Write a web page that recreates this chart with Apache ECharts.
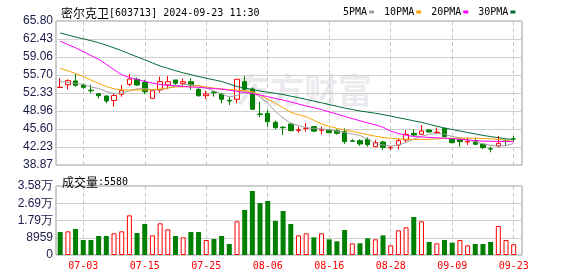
<!DOCTYPE html>
<html><head><meta charset="utf-8">
<script src="https://cdn.jsdelivr.net/npm/echarts@6/dist/echarts.min.js"></script>
<style>html,body{margin:0;padding:0;background:#fff}#c{width:578px;height:276px}</style>
</head><body><div id="c"></div>
<script>
const stockName = '密尔克卫';
const stockCode = '603713';
const timeLabel = '2024-09-23 11:30';
const dates = ['06-28','07-01','07-02','07-03','07-04','07-05','07-08','07-09','07-10','07-11','07-12','07-15','07-16','07-17','07-18','07-19','07-22','07-23','07-24','07-25','07-26','07-29','07-30','07-31','08-01','08-02','08-05','08-06','08-07','08-08','08-09','08-12','08-13','08-14','08-15','08-16','08-19','08-20','08-21','08-22','08-23','08-26','08-27','08-28','08-29','08-30','09-02','09-03','09-04','09-05','09-06','09-09','09-10','09-11','09-12','09-13','09-18','09-19','09-20','09-23'];
const opens = [53.36,53.89,54.58,53.83,52.85,52.20,51.77,50.94,52.09,53.96,54.90,54.34,51.34,52.90,53.83,54.77,54.15,54.45,53.03,51.83,52.52,52.15,50.96,51.16,54.45,53.08,48.42,48.54,46.86,45.93,46.54,45.35,45.70,46.05,45.38,45.42,45.29,45.10,43.40,43.42,43.68,42.30,43.17,42.10,42.61,43.55,44.80,44.61,45.42,44.95,45.73,43.68,43.68,43.20,43.42,42.74,41.92,42.42,43.40,43.75];
const closes = [53.40,54.64,53.78,53.40,52.75,51.83,50.84,51.87,52.77,54.95,53.83,52.58,52.77,54.45,54.45,54.15,54.45,53.83,51.83,52.15,52.39,51.16,50.84,54.90,53.03,49.29,48.33,46.97,45.85,45.85,45.29,45.42,45.77,45.20,45.42,44.91,44.80,43.23,43.30,42.80,42.67,43.05,42.18,42.15,43.42,44.61,44.48,45.23,45.04,45.00,44.17,43.05,43.23,43.25,42.74,42.11,41.86,42.93,43.35,43.72];
const lows = [53.30,53.03,53.51,53.03,52.28,51.34,50.41,49.77,51.64,53.64,53.64,52.15,51.30,52.39,53.03,53.83,53.40,52.96,51.64,51.21,51.64,50.41,50.09,50.41,52.77,49.16,47.79,46.03,45.55,44.48,45.17,44.91,45.10,45.10,44.61,44.85,44.54,42.80,43.28,42.48,42.30,42.30,41.68,41.68,41.80,43.12,44.30,44.48,44.98,44.80,44.05,42.92,42.30,42.61,42.61,41.86,41.24,42.18,42.42,43.23];
const highs = [55.08,54.90,55.89,54.15,53.90,52.20,51.90,52.33,53.83,55.89,55.20,54.77,52.85,55.39,55.51,54.77,55.01,55.08,53.21,52.77,52.77,52.39,51.64,54.95,55.51,53.40,50.71,49.16,47.16,46.16,46.79,46.03,46.67,46.16,46.03,45.45,45.60,45.73,43.68,43.68,44.05,43.55,43.42,42.42,43.86,45.42,45.55,46.35,45.55,45.85,45.73,43.86,43.68,43.98,43.98,42.92,42.30,44.30,43.68,44.30];
const ma5 = [54.49,54.30,54.15,53.93,53.46,53.18,52.61,52.19,52.33,52.71,53.12,53.18,52.90,52.90,53.27,53.64,53.93,53.89,53.64,53.27,52.71,52.15,51.59,51.87,52.56,52.43,51.59,50.46,48.88,47.66,46.63,46.26,45.83,45.73,45.64,45.45,45.23,44.95,44.67,44.39,43.73,42.89,42.61,42.42,42.61,43.08,43.73,44.20,44.61,44.76,44.63,44.20,43.92,43.58,43.21,42.84,42.56,42.42,42.51,42.88];
const ma10 = [56.94,56.49,55.98,55.42,54.78,54.13,53.57,53.12,52.91,52.90,52.90,52.90,52.95,53.08,53.27,53.46,53.51,53.57,53.72,53.44,53.25,53.10,52.97,52.86,52.76,52.60,51.92,51.19,50.41,49.55,48.73,48.28,47.90,47.23,46.56,46.09,45.73,45.43,45.13,44.85,44.55,44.26,43.99,43.88,43.73,43.70,43.65,43.65,43.68,43.75,43.84,43.88,43.92,43.90,43.88,43.83,43.75,43.66,43.49,43.27];
const ma20 = [62.04,61.40,60.79,60.07,59.35,58.64,57.68,56.69,55.74,55.25,54.86,54.51,54.19,53.93,53.80,53.67,53.54,53.44,53.39,53.27,53.16,53.05,52.86,52.65,52.43,52.22,51.96,51.64,51.32,51.01,50.67,50.28,49.90,49.59,49.23,48.80,48.39,47.96,47.55,47.14,46.74,46.37,45.94,45.21,44.76,44.43,44.20,44.11,44.03,43.96,43.88,43.81,43.68,43.56,43.43,43.34,43.30,43.29,43.25,43.24];
const ma30 = [63.56,63.18,62.81,62.47,62.12,61.74,61.27,60.77,60.25,59.67,59.10,58.53,57.95,57.38,56.95,56.50,56.11,55.76,55.40,55.10,54.80,54.49,54.02,53.55,53.27,52.99,52.71,52.48,52.28,52.04,51.74,51.46,51.14,50.82,50.50,50.17,49.85,49.53,49.25,48.97,48.76,48.54,48.30,48.01,47.71,47.43,47.13,46.84,46.48,46.12,45.79,45.51,45.23,44.95,44.67,44.41,44.18,43.98,43.77,43.64];
const volumes = [11950,12290,13500,7790,7790,9870,9870,11250,12290,20600,11430,16100,10210,16450,13330,9870,9180,11950,11950,7790,8310,9870,5710,17490,23370,33240,27010,28050,17660,22850,16100,10210,11250,9180,11250,8140,7100,12990,6060,6060,8660,8140,10210,5020,12810,14370,19740,17490,6750,6060,7790,6410,7790,5020,5710,5710,6750,15060,7790,5580];
const volumeUp = [0,1,0,0,0,0,0,1,1,1,0,0,1,1,1,0,1,0,0,1,0,0,0,1,0,0,0,0,0,0,0,1,1,0,1,0,0,0,1,0,0,1,0,1,1,1,0,1,0,1,0,0,1,1,0,0,0,1,1,1];
const priceTicks = ['38.87','42.23','45.60','48.96','52.33','55.70','59.06','62.43','65.80'];
const volTicks = ['0','8959','1.79万','2.69万','3.58万'];
const maNames = ['5PMA','10PMA','20PMA','30PMA'];
const maColors = ['#a0a0a0','#f5a300','#ff00ff','#006b33'];

const priceMin = +priceTicks[0], priceMax = +priceTicks[priceTicks.length-1];
const priceStep = (priceMax - priceMin) / (priceTicks.length - 1);
const volMax = 35836, volStep = volMax / (volTicks.length - 1);

const candleData = opens.map((o, i) => [o, closes[i], lows[i], highs[i]]);
const volData = volumes.map((v, i) => ({
  value: v,
  itemStyle: volumeUp[i] ? {color: '#ffffff', borderColor: '#ff0000', borderWidth: 1} : {color: '#008000', borderColor: '#008000', borderWidth: 0}
}));
const labelEvery = (idx) => idx % 8 === 3;
const mono = 'DejaVu Sans Mono';
const labelFont = 'Liberation Sans';
const axisLabelColor = '#1a1a48';
const gridLine = {color: '#cfcfcf', width: 1};
const dashLine = {color: '#c8c8c8', width: 1, type: [4, 3]};
const titleRich = {
  a: {fontFamily: 'Noto Sans CJK SC', fontSize: 12, fontWeight: 'normal', color: '#000'},
  b: {fontFamily: mono, fontSize: 10, fontWeight: 'normal', color: '#000'}
};

const chart = echarts.init(document.getElementById('c'), null, {renderer: 'canvas'});
chart.setOption({
  animation: false,
  title: [
    {text: '{a|' + stockName + '}{b|[' + stockCode + '] ' + timeLabel + '}', left: 56, top: 2,
     textStyle: {fontWeight: 'normal', rich: titleRich}},
    {text: '{a|成交量}{b|:' + volumes[volumes.length-1] + '}', left: 57, top: 171,
     textStyle: {fontWeight: 'normal', rich: titleRich}}
  ],
  legend: {
    data: maNames, left: 338, top: 2, align: 'right', icon: 'rect',
    itemWidth: 5, itemHeight: 3, itemGap: 10,
    textStyle: {fontFamily: mono, fontSize: 10, color: '#000', padding: [0, -3, 0, 0]}
  },
  graphic: [
    {type: 'text', left: 236, top: 73, z: 0, silent: true,
     style: {text: '东方财富', fontSize: 34, fontWeight: 'bold', fontFamily: 'Noto Sans CJK SC', fill: '#ebebef'}}
  ],
  grid: [
    {left: 56, top: 21, width: 466, height: 144, show: true, borderColor: '#999', borderWidth: 1, backgroundColor: 'transparent', outerBoundsMode: 'none'},
    {left: 60.2, top: 21, width: 453.5, height: 144, outerBoundsMode: 'none'},
    {left: 56, top: 186, width: 466, height: 69, show: true, borderColor: '#999', borderWidth: 1, backgroundColor: 'transparent', outerBoundsMode: 'none'},
    {left: 60.2, top: 186, width: 453.5, height: 69, outerBoundsMode: 'none'}
  ],
  xAxis: [
    {gridIndex: 0, type: 'value', min: 0, max: 1, show: false},
    {gridIndex: 1, type: 'category', data: dates, boundaryGap: false,
     axisLine: {show: false}, axisTick: {show: false}, axisLabel: {show: false},
     splitLine: {show: true, interval: labelEvery, lineStyle: dashLine}},
    {gridIndex: 2, type: 'value', min: 0, max: 1, show: false},
    {gridIndex: 3, type: 'category', data: dates, boundaryGap: false,
     axisLine: {show: false}, axisTick: {show: false},
     axisLabel: {show: true, interval: labelEvery, color: '#ff0000', fontFamily: mono, fontSize: 10, margin: 6, hideOverlap: false},
     splitLine: {show: true, interval: labelEvery, lineStyle: dashLine}}
  ],
  yAxis: [
    {gridIndex: 0, type: 'value', min: priceMin, max: priceMax, interval: priceStep,
     axisLine: {show: false}, axisTick: {show: false},
     axisLabel: {margin: 3, color: axisLabelColor, fontFamily: labelFont, fontSize: 12,
       formatter: v => priceTicks[Math.round((v - priceMin) / priceStep)]},
     splitLine: {show: true, lineStyle: gridLine}},
    {gridIndex: 1, type: 'value', min: priceMin, max: priceMax, show: false, splitLine: {show: false}},
    {gridIndex: 2, type: 'value', min: 0, max: volMax, interval: volStep,
     axisLine: {show: false}, axisTick: {show: false},
     axisLabel: {margin: 3, color: axisLabelColor, fontFamily: labelFont, fontSize: 12,
       formatter: v => volTicks[Math.round(v / volStep)]},
     splitLine: {show: true, lineStyle: gridLine}},
    {gridIndex: 3, type: 'value', min: 0, max: volMax, show: false, splitLine: {show: false}}
  ],
  series: [
    {type: 'candlestick', name: 'K', xAxisIndex: 1, yAxisIndex: 1, data: candleData, barWidth: 5, clip: false,
     itemStyle: {color: '#ffffff', color0: '#008000', borderColor: '#ff0000', borderColor0: '#008000', borderWidth: 1}},
    ...[ma5, ma10, ma20, ma30].map((d, k) => ({
      type: 'line', name: maNames[k], xAxisIndex: 1, yAxisIndex: 1, data: d,
      showSymbol: false, symbol: 'none', smooth: false, clip: false,
      color: maColors[k], itemStyle: {color: maColors[k]}, lineStyle: {color: maColors[k], width: 1}
    })),
    {type: 'bar', name: 'VOL', xAxisIndex: 3, yAxisIndex: 3, data: volData, barWidth: 5, clip: false}
  ]
});
</script></body></html>
